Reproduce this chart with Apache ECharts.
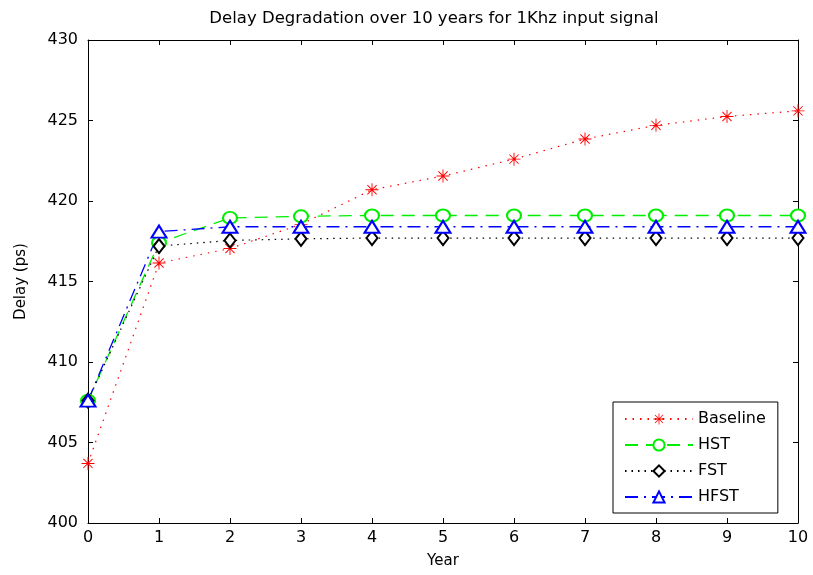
<!DOCTYPE html>
<html><head><meta charset="utf-8">
<script src="https://cdn.jsdelivr.net/npm/echarts@6/dist/echarts.min.js"></script>
<style>html,body{margin:0;padding:0;background:#fff}#c{width:813px;height:575px}</style>
</head><body><div id="c"></div>
<script>
const years = ['0','1','2','3','4','5','6','7','8','9','10'];
const baseline = [403.7, 416.15, 417.05, 418.55, 420.7, 421.55, 422.6, 423.85, 424.7, 425.25, 425.6];
const hst = [407.6, 417.4, 418.95, 419.05, 419.1, 419.1, 419.1, 419.1, 419.1, 419.1, 419.1];
const fst = [407.6, 417.2, 417.55, 417.65, 417.7, 417.7, 417.7, 417.7, 417.7, 417.7, 417.7];
const hfst = [407.6, 418.1, 418.4, 418.4, 418.4, 418.4, 418.4, 418.4, 418.4, 418.4, 418.4];
const seriesNames = ['Baseline','HST','FST','HFST'];

const star = 'path://M-0.7,-10 L0.7,-10 L0.7,10 L-0.7,10 Z M-10,-0.7 L10,-0.7 L10,0.7 L-10,0.7 Z M-7.6,-6.6 L-6.6,-7.6 L7.6,6.6 L6.6,7.6 Z M6.6,-7.6 L7.6,-6.6 L-6.6,7.6 L-7.6,6.6 Z M-2,-2 L2,-2 L2,2 L-2,2 Z';
const font = 'DejaVu Sans, sans-serif';

const chart = echarts.init(document.getElementById('c'));
const axisLine = {show:true, lineStyle:{color:'#000', width:1}};
chart.setOption({
  animation:false,
  backgroundColor:'#fff',
  title:{text:'Delay Degradation over 10 years for 1Khz input signal', left:429, textAlign:'center', top:5,
    textStyle:{fontFamily:font, fontSize:16.5, fontWeight:'normal', color:'#000'}},
  grid:{left:88, right:15, top:40, bottom:52, containLabel:false},
  legend:{
    orient:'vertical', left:613, top:402, width:179,
    data:seriesNames, backgroundColor:'#fff', borderColor:'#000', borderWidth:1,
    padding:[9,12,8,11], itemGap:10, itemWidth:68, itemHeight:14,
    textStyle:{fontFamily:font, fontSize:16, color:'#000'}
  },
  xAxis:[
    {type:'category', data:years, boundaryGap:false, position:'bottom',
     axisLine:axisLine, axisTick:{show:true, inside:true, length:5, alignWithLabel:true, lineStyle:{color:'#000'}},
     axisLabel:{fontFamily:font, fontSize:16, color:'#000', margin:7},
     splitLine:{show:false},
     name:'Year', nameLocation:'middle', nameGap:31, nameTextStyle:{fontFamily:font, fontSize:15, color:'#000'}},
    {type:'category', data:years, boundaryGap:false, position:'top',
     axisLine:axisLine, axisTick:{show:true, inside:true, length:5, lineStyle:{color:'#000'}},
     axisLabel:{show:false}, splitLine:{show:false}}
  ],
  yAxis:[
    {type:'value', min:400, max:430, interval:5, position:'left',
     axisLine:axisLine, axisTick:{show:true, inside:true, length:5, lineStyle:{color:'#000'}},
     axisLabel:{fontFamily:font, fontSize:16, color:'#000', margin:10},
     splitLine:{show:false},
     name:'Delay (ps)', nameLocation:'middle', nameGap:59, nameRotate:90, nameTextStyle:{fontFamily:font, fontSize:15, color:'#000'}},
    {type:'value', min:400, max:430, interval:5, position:'right',
     axisLine:axisLine, axisTick:{show:true, inside:true, length:5, lineStyle:{color:'#000'}},
     axisLabel:{show:false}, splitLine:{show:false}}
  ],
  series:[
    {name:'Baseline', type:'line', data:baseline, symbol:star, symbolSize:13, showAllSymbol:true,
     itemStyle:{color:'#ff0000'}, lineStyle:{color:'#ff0000', width:1.2, type:[1.5,6]}},
    {name:'HST', type:'line', data:hst, symbol:'emptyCircle', symbolSize:[14,12], showAllSymbol:true,
     itemStyle:{color:'#00ee00', borderWidth:1.3}, lineStyle:{color:'#00ee00', width:1.3, type:[13,8]}},
    {name:'FST', type:'line', data:fst, symbol:'emptyDiamond', symbolSize:[11,14], showAllSymbol:true,
     itemStyle:{color:'#000000', borderWidth:1.2}, lineStyle:{color:'#000000', width:1.2, type:[1.5,5]}},
    {name:'HFST', type:'line', data:hfst, symbol:'emptyTriangle', symbolSize:[15,12], showAllSymbol:true,
     itemStyle:{color:'#0000ff', borderWidth:1.3}, lineStyle:{color:'#0000ff', width:1.3, type:[13,6,2,6]}}
  ]
});
</script></body></html>
